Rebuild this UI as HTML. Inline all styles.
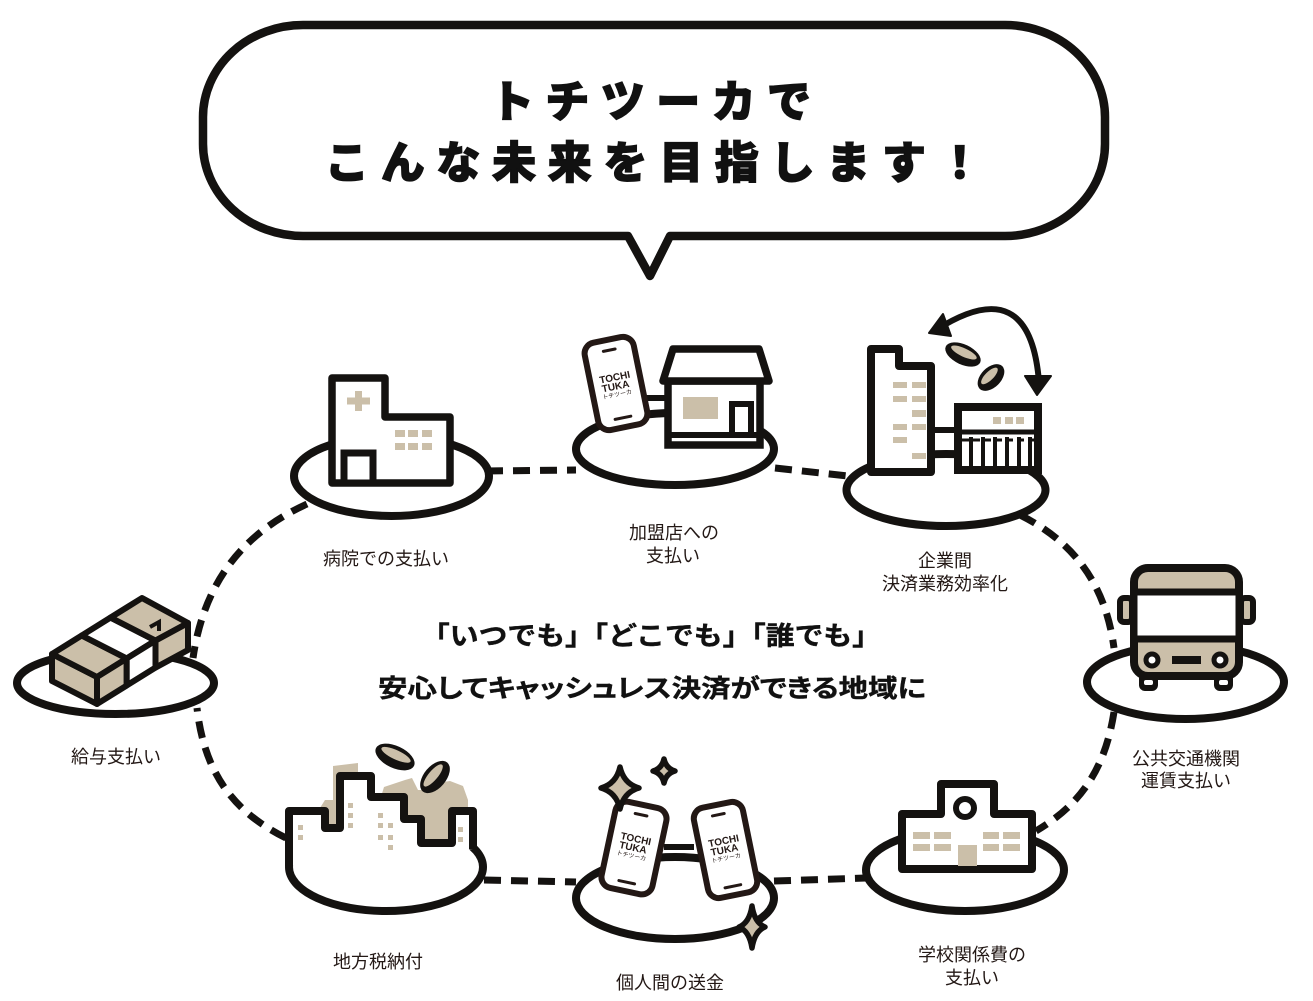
<!DOCTYPE html>
<html><head><meta charset="utf-8">
<style>
html,body{margin:0;padding:0;background:#fff;}
svg{display:block;}
text{font-family:"Liberation Sans","Noto Sans CJK JP",sans-serif;}
.lb{font-size:18px;fill:#231815;text-anchor:middle;}
</style></head><body>
<svg width="1313" height="1001" viewBox="0 0 1313 1001" xmlns="http://www.w3.org/2000/svg">
<rect width="1313" height="1001" fill="#fff"/>

<!-- speech bubble -->
<path d="M303,25 H1005 A100,92 0 0 1 1105,117 V144 A100,92 0 0 1 1005,236 H670 L650,276 L628,236 H303 A100,92 0 0 1 203,144 V117 A100,92 0 0 1 303,25 Z" fill="#fff" stroke="#141210" stroke-width="8.5" stroke-linejoin="round"/>
<text x="512 567.4 622.8 678.2 733.6 789" y="117" font-size="44" font-weight="900" fill="#111" stroke="#111" stroke-width="1.3" text-anchor="middle">トチツーカで</text>
<text x="347 402.7 458.4 514.1 569.8 625.5 681.2 736.9 792.6 848.3 904 959.7" y="178" font-size="44" font-weight="900" fill="#111" stroke="#111" stroke-width="1.3" text-anchor="middle">こんな未来を目指します！</text>

<!-- connectors -->
<g fill="none" stroke="#141210" stroke-width="7" stroke-dasharray="17 10">
<path d="M486,471 L576,470"/>
<path d="M775,468 L848,476"/>
<path d="M1020,515 C1070,540 1105,580 1114,648"/>
<path d="M1114,712 C1105,770 1080,805 1036,831"/>
<path d="M774,881 L866,878"/>
<path d="M484,880 L576,882"/>
<path d="M286,838 C240,815 205,780 197,708"/>
<path d="M307,504 C250,530 205,575 193,658"/>
</g>

<!-- center text -->
<text x="651" y="645" font-size="26" font-weight="bold" fill="#111" stroke="#111" stroke-width="0.4" text-anchor="middle" textLength="460" lengthAdjust="spacingAndGlyphs">「いつでも」「どこでも」「誰でも」</text>
<text x="652" y="697" font-size="25" font-weight="bold" fill="#111" stroke="#111" stroke-width="0.4" text-anchor="middle" style="font-feature-settings:'palt'" textLength="548" lengthAdjust="spacingAndGlyphs">安心してキャッシュレス決済ができる地域に</text>

<!-- ellipses -->
<g fill="#fff" stroke="#141210" stroke-width="8">
<ellipse cx="391.5" cy="476" rx="97.5" ry="40"/>
<ellipse cx="675" cy="449" rx="99" ry="36"/>
<ellipse cx="946" cy="490" rx="99.5" ry="36"/>
<ellipse cx="115.5" cy="683" rx="98.5" ry="31"/>
<ellipse cx="1185.5" cy="682" rx="98.5" ry="37"/>
<ellipse cx="965" cy="870" rx="99" ry="41"/>
<ellipse cx="675" cy="898" rx="99" ry="41"/>
<ellipse cx="386" cy="867" rx="97" ry="44"/>
</g>

<!-- hospital -->
<polygon points="332,378 385,378 385,417 450,417 450,483 332,483" fill="#fff" stroke="#141210" stroke-width="7.5" stroke-linejoin="round"/>
<rect x="355" y="391" width="7" height="20" fill="#cbbfa9"/>
<rect x="347" y="397.5" width="23" height="7" fill="#cbbfa9"/>
<g fill="#cbbfa9">
<rect x="395" y="430" width="10" height="7"/><rect x="408" y="430" width="10" height="7"/><rect x="422" y="430" width="10" height="7"/>
<rect x="395" y="443" width="10" height="7"/><rect x="408" y="443" width="10" height="7"/><rect x="422" y="443" width="10" height="7"/>
</g>
<rect x="344" y="453" width="29" height="30" fill="#fff" stroke="#141210" stroke-width="7"/>

<!-- shop -->
<line x1="645" y1="398" x2="668" y2="398" stroke="#141210" stroke-width="6"/>
<rect x="668" y="381" width="92" height="64" fill="#fff" stroke="#141210" stroke-width="7.5"/>
<polygon points="673,349 759,349 769,381 663,381" fill="#fff" stroke="#141210" stroke-width="7.5" stroke-linejoin="round"/>
<line x1="668" y1="435" x2="760" y2="435" stroke="#141210" stroke-width="6"/>
<rect x="683" y="397" width="35" height="22" fill="#cbbfa9"/>
<rect x="732" y="404" width="19" height="31" fill="#fff" stroke="#141210" stroke-width="6"/>
<g transform="translate(616,383.5) rotate(-11.5)">
<rect x="-25" y="-44.5" width="50" height="89" rx="11" fill="#fff" stroke="#231815" stroke-width="6"/>
<line x1="-6" y1="-34" x2="6" y2="-34" stroke="#231815" stroke-width="3" stroke-linecap="round"/>
<line x1="-8" y1="35" x2="8" y2="35" stroke="#231815" stroke-width="3" stroke-linecap="round"/>
<text x="0" y="-3" font-size="10" font-weight="bold" fill="#231815" text-anchor="middle">TOCHI</text>
<text x="-1" y="6" font-size="10" font-weight="bold" fill="#231815" text-anchor="middle">TUKA</text>
<text x="-1" y="13" font-size="6" fill="#231815" text-anchor="middle">トチツーカ</text>
</g>

<!-- office -->
<path d="M936,330 Q1030,270 1039,382" fill="none" stroke="#141210" stroke-width="6"/>
<polygon points="929,333 943,314 951,336" fill="#141210" stroke="#141210" stroke-width="2" stroke-linejoin="round"/>
<polygon points="1037,395 1025,376 1051,376" fill="#141210" stroke="#141210" stroke-width="2" stroke-linejoin="round"/>
<g transform="translate(963,354.5) rotate(25)"><ellipse rx="19" ry="10" fill="#141210"/><ellipse cy="-2.2" rx="14" ry="4.2" fill="#cbbfa9"/></g>
<g transform="translate(991,377.5) rotate(-45)"><ellipse rx="16" ry="10" fill="#141210"/><ellipse cy="-2.2" rx="11" ry="4.2" fill="#cbbfa9"/></g>
<line x1="931" y1="430" x2="958" y2="430" stroke="#141210" stroke-width="6"/>
<polygon points="871,349 899,349 899,366 931,366 931,472 871,472" fill="#fff" stroke="#141210" stroke-width="8" stroke-linejoin="round"/>
<g fill="#cbbfa9">
<rect x="893" y="382" width="14" height="6"/><rect x="912" y="382" width="14" height="6"/>
<rect x="893" y="396" width="14" height="6"/><rect x="912" y="396" width="14" height="6"/>
<rect x="912" y="410" width="14" height="7"/>
<rect x="893" y="424" width="14" height="6"/><rect x="912" y="424" width="14" height="6"/>
<rect x="893" y="437" width="14" height="6"/>
<rect x="912" y="453" width="14" height="6"/>
</g>
<rect x="958" y="407" width="80" height="63" fill="#fff" stroke="#141210" stroke-width="8"/>
<rect x="993" y="417" width="8" height="7" fill="#cbbfa9"/><rect x="1005" y="417" width="8" height="7" fill="#cbbfa9"/><rect x="1016" y="417" width="8" height="7" fill="#cbbfa9"/>
<line x1="958" y1="432" x2="1038" y2="432" stroke="#141210" stroke-width="5"/>
<line x1="962" y1="440" x2="1034" y2="440" stroke="#141210" stroke-width="3" stroke-dasharray="7 4"/>
<g stroke="#141210" stroke-width="4">
<line x1="971" y1="437" x2="971" y2="468"/><line x1="983" y1="437" x2="983" y2="468"/><line x1="995" y1="437" x2="995" y2="468"/><line x1="1007" y1="437" x2="1007" y2="468"/><line x1="1019" y1="437" x2="1019" y2="468"/><line x1="1030" y1="437" x2="1030" y2="468"/>
</g>

<!-- bus -->
<rect x="1120" y="598" width="12" height="24" rx="4" fill="#cbbfa9" stroke="#141210" stroke-width="6"/>
<rect x="1241" y="598" width="12" height="24" rx="4" fill="#cbbfa9" stroke="#141210" stroke-width="6"/>
<rect x="1139" y="672" width="19" height="19" rx="6" fill="#141210"/>
<rect x="1214" y="672" width="19" height="19" rx="6" fill="#141210"/>
<rect x="1144" y="680" width="9" height="5" rx="2" fill="#fff"/>
<rect x="1219" y="680" width="9" height="5" rx="2" fill="#fff"/>
<rect x="1134" y="568" width="105" height="108" rx="14" fill="#cbbfa9" stroke="#141210" stroke-width="8"/>
<rect x="1134" y="592" width="105" height="47" fill="#fff" stroke="#141210" stroke-width="7"/>
<circle cx="1152" cy="660" r="6" fill="#fff" stroke="#141210" stroke-width="5"/>
<circle cx="1220" cy="660" r="6" fill="#fff" stroke="#141210" stroke-width="5"/>
<rect x="1172" y="656" width="29" height="8" fill="#141210"/>

<!-- school -->
<polygon points="902,814 941,814 941,784 994,784 994,814 1032,814 1032,869 902,869" fill="#fff" stroke="#141210" stroke-width="8" stroke-linejoin="round"/>
<circle cx="965" cy="808" r="9" fill="#fff" stroke="#141210" stroke-width="6"/>
<g fill="#cbbfa9">
<rect x="913" y="832" width="17" height="7"/><rect x="934" y="832" width="17" height="7"/><rect x="983" y="832" width="16" height="7"/><rect x="1003" y="832" width="17" height="7"/>
<rect x="913" y="844" width="17" height="7"/><rect x="934" y="844" width="17" height="7"/><rect x="983" y="844" width="16" height="7"/><rect x="1003" y="844" width="17" height="7"/>
<rect x="958" y="845" width="19" height="21"/>
</g>

<!-- phones pair -->
<line x1="664" y1="847" x2="694" y2="847" stroke="#141210" stroke-width="6"/>
<g transform="translate(634,848) rotate(12)">
<rect x="-26" y="-44" width="52" height="88" rx="11" fill="#fff" stroke="#231815" stroke-width="6"/>
<line x1="-6" y1="-34" x2="6" y2="-34" stroke="#231815" stroke-width="3" stroke-linecap="round"/>
<line x1="-8" y1="35" x2="8" y2="35" stroke="#231815" stroke-width="3" stroke-linecap="round"/>
<text x="0" y="-6" font-size="10" font-weight="bold" fill="#231815" text-anchor="middle">TOCHI</text>
<text x="-1" y="3" font-size="10" font-weight="bold" fill="#231815" text-anchor="middle">TUKA</text>
<text x="-1" y="10" font-size="6" fill="#231815" text-anchor="middle">トチツーカ</text>
</g>
<g transform="translate(725.5,850) rotate(-11.5)">
<rect x="-25" y="-46" width="50" height="92" rx="11" fill="#fff" stroke="#231815" stroke-width="6"/>
<line x1="-6" y1="-36" x2="6" y2="-36" stroke="#231815" stroke-width="3" stroke-linecap="round"/>
<line x1="-8" y1="37" x2="8" y2="37" stroke="#231815" stroke-width="3" stroke-linecap="round"/>
<text x="0" y="-6" font-size="10" font-weight="bold" fill="#231815" text-anchor="middle">TOCHI</text>
<text x="-1" y="3" font-size="10" font-weight="bold" fill="#231815" text-anchor="middle">TUKA</text>
<text x="-1" y="10" font-size="6" fill="#231815" text-anchor="middle">トチツーカ</text>
</g>
<g fill="#cbbfa9" stroke="#141210" stroke-width="5.5" stroke-linejoin="round">
<path d="M620,767 Q623.8,783.8 639,788 Q623.8,792.2 620,809 Q616.2,792.2 601,788 Q616.2,783.8 620,767Z"/>
<path d="M664,759 Q666.2,768.6 675,771 Q666.2,773.4 664,783 Q661.8,773.4 653,771 Q661.8,768.6 664,759Z"/>
<path d="M752,906 Q754.6,922.8 765,927 Q754.6,931.2 752,948 Q749.4,931.2 739,927 Q749.4,922.8 752,906Z"/>
</g>

<!-- city -->
<polygon points="318,811 325,800 333,800 333,766 358,763 358,830 318,830" fill="#cbbfa9"/>
<polygon points="380,800 384,787 405,780 412,778 418,790 432,790 436,783 450,781 463,786 468,800 468,845 380,845" fill="#cbbfa9"/>
<path d="M289,866 V811 H325 V828 H340 V776 H371 V797 H404 V819 H421 V843 H452 V811 H473 V849" fill="#fff" stroke="#141210" stroke-width="8" stroke-linejoin="round"/>
<g fill="#cbbfa9">
<rect x="298" y="825" width="5" height="5"/><rect x="298" y="835" width="5" height="5"/>
<rect x="348" y="803" width="5" height="5"/><rect x="348" y="813" width="5" height="5"/><rect x="348" y="823" width="5" height="5"/>
<rect x="378" y="813" width="5" height="5"/><rect x="378" y="823" width="5" height="5"/><rect x="388" y="823" width="5" height="5"/>
<rect x="378" y="835" width="5" height="5"/><rect x="388" y="835" width="5" height="5"/><rect x="388" y="845" width="5" height="5"/>
<rect x="458" y="827" width="5" height="5"/><rect x="458" y="837" width="5" height="5"/>
</g>
<g transform="translate(395,757) rotate(25)"><ellipse rx="21" ry="11" fill="#141210"/><ellipse cy="-2.4" rx="16" ry="4.6" fill="#cbbfa9"/></g>
<g transform="translate(435,777) rotate(-50)"><ellipse rx="19" ry="11" fill="#141210"/><ellipse cy="-2.4" rx="14" ry="4.6" fill="#cbbfa9"/></g>

<!-- cash -->
<g stroke="#141210" stroke-width="6" stroke-linejoin="round">
<polygon points="52,654 97,677 97,704 52,681" fill="#cbbfa9"/>
<polygon points="52,654 81.7,635.5 126.7,658.5 97,677" fill="#cbbfa9"/>
<polygon points="97,677 126.7,658.5 126.7,685.5 97,704" fill="#cbbfa9"/>
<polygon points="81.7,635.5 110.5,617.6 155.5,640.6 126.7,658.5" fill="#fff"/>
<polygon points="126.7,658.5 155.5,640.6 155.5,667.6 126.7,685.5" fill="#fff"/>
<polygon points="110.5,617.6 142,598 188,623 155.5,640.6" fill="#cbbfa9"/>
<polygon points="155.5,640.6 188,623 188,650 155.5,667.6" fill="#cbbfa9"/>
</g>
<path d="M150,627 L159,622 L159,631" fill="none" stroke="#141210" stroke-width="4"/>

<!-- labels -->
<text class="lb" x="386" y="565">病院での支払い</text>
<text class="lb" x="674" y="539">加盟店への</text>
<text class="lb" x="673" y="562">支払い</text>
<text class="lb" x="945" y="567">企業間</text>
<text class="lb" x="945" y="590">決済業務効率化</text>
<text class="lb" x="116" y="763">給与支払い</text>
<text class="lb" x="1186" y="765">公共交通機関</text>
<text class="lb" x="1186" y="787">運賃支払い</text>
<text class="lb" x="378" y="968">地方税納付</text>
<text class="lb" x="670" y="989">個人間の送金</text>
<text class="lb" x="972" y="961">学校関係費の</text>
<text class="lb" x="972" y="984">支払い</text>
</svg>
</body></html>
